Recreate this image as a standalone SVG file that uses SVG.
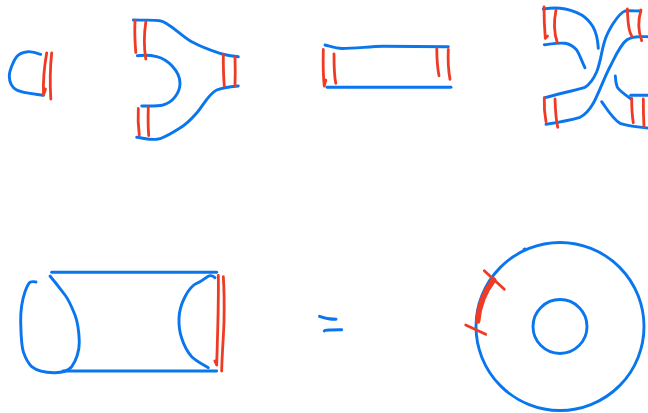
<svg xmlns="http://www.w3.org/2000/svg" width="648" height="413" viewBox="0 0 648 413">
<style>
path,circle{fill:none;stroke-linecap:round;stroke-linejoin:round}
.b{stroke:#0a76ee;stroke-width:2.9}
.r{stroke:#ef3a24;stroke-width:2.8}
</style>
<rect width="648" height="413" fill="#fff"/>
<g id="cap">
<path class="b" d="M40.700 54.300C38.600 53.900 32 51.300 28 51.700C24 52.100 19.800 52.700 16.700 56.700C13.600 60.700 9.300 70.400 9.300 76C9.300 81.600 11 86.800 16.700 90C22.400 93.200 38.900 94.400 43.300 95.300"/>
<path class="r" d="M46.700 53C44.500 65 43 80 43.500 95M45.500 89L43.500 95"/>
<path class="r" d="M51.700 53C50 68 50 85 50.800 99"/>
</g>
<g id="pants">
<path class="b" d="M133.300 20C142 20.500 152 19.500 160 20.700C168 21.500 181.700 36.300 191.700 41.700C201.700 47.100 212.200 50.800 220 53.300C227.800 55.800 235 56.100 238.300 56.700"/>
<path class="b" d="M238.300 86C231 86.700 222.500 87.500 216.700 90C209 93.500 202.500 106.300 196.700 113C191 119.500 186 124.500 180 128C172 132.500 165 138 156.700 139.300C150 140 143 138 136.700 137.300"/>
<path class="b" d="M137.300 55.700C144 55 150 55 156.700 56.700C168 59.500 180 71 180 83.300C180 93 172.500 102.500 163 105C156 106.500 149 105.800 141.700 106"/>
<path class="r" d="M135 21C134.500 32 135 43 135.800 52.500"/>
<path class="r" d="M145.800 22C144 34 144 48 145.800 59"/>
<path class="r" d="M223.300 55C223.300 66 223.500 77 224.300 86"/>
<path class="r" d="M235 57C235.300 67 235.300 77 235 86"/>
<path class="r" d="M138.300 108.500C137.800 117 138.300 127 139.300 135"/>
<path class="r" d="M148.300 107.500C148 117 148 127 148.700 135.500"/>
</g>
<g id="cylinder">
<path class="b" d="M325 45C331 46.500 336 48.500 342 48.500C355 48.500 370 46.500 383 46.300L448.300 46.700"/>
<path class="b" d="M327 87.300H451"/>
<path class="r" d="M323.300 49.500C323 62 323 75 324.300 86M325.800 80L324.300 86"/>
<path class="r" d="M334 54C334 64 334 75 335.800 83.300"/>
<path class="r" d="M436.800 48.500C436.800 58 437.500 68 439 75.800"/>
<path class="r" d="M448.300 49.500C447.800 60 448.500 71 450 79.300"/>
</g>
<g id="crossing">
<path class="b" d="M543.300 9C549 8.200 555 7.800 560 8.300C568 9 575 11.500 581.700 15C586.500 18 590 22 593 26.700C596 32 597.800 40 598.300 48.300"/>
<path class="b" d="M544.300 44.700C551 44 558 42.500 565 43.300C570 44 573.500 46.500 576.700 50C580 55 582 62 585 67.700"/>
<path class="b" d="M545 97.700C558 94 572 91 585 87.300C590 84 594 78 596.700 71.700C601 61 601.500 50 605 40C607 34 610 28.500 613.300 23.300C616.500 18.500 620 13 625 11C630 10.500 635 11 640.700 11"/>
<path class="b" d="M546 124.300C557 122.500 569 120.500 580 117.300C586 114.500 590 109 593.300 103.300C599 93 604 78 610 66.700C615 57 620 45 626.700 40C632 36 640 36.500 647.300 36.700"/>
<path class="b" d="M615.300 76C615.500 80 616 84 617.300 87.300C620.500 92 627 96 631.700 99.300"/>
<path class="b" d="M630.700 95.300H648"/>
<path class="b" d="M601.700 101.700C607 109 612 118 620 123.300C628 126 638 127 647.300 128"/>
<path class="r" d="M544 7C544 18 544.500 28 545.300 38.300M547.500 36L545.300 38.300"/>
<path class="r" d="M556 10C554 20 554 33 557.300 42.700"/>
<path class="r" d="M627.300 9C628 18 627.500 30 631.700 36"/>
<path class="r" d="M641 10C638 20 638.500 32 641.700 40.700"/>
<path class="r" d="M544.300 97.700C544 106 544.500 114 546 121.700"/>
<path class="r" d="M555 99C555.300 108 555.800 119 557.700 127.300"/>
<path class="r" d="M631.700 98.300C631.700 106 632 115 633.300 122.700"/>
<path class="r" d="M643.300 99C643.300 108 643.500 118 644 126.700"/>
</g>
<g id="tube">
<path class="b" d="M51.700 272.300H216.700"/>
<path class="b" d="M63 371H216.700"/>
<path class="b" d="M36 282C34 281.600 32 281.300 30 282.300C28 283.500 26.500 288 25 291.700C22.500 299 20.500 311.500 20.700 321.700C21 332 21 344 23.300 351.700C25 357 28 363 31.700 366.700C37 371 47 372.800 55 372.700C62 372.600 67.500 371.500 71.700 366.700C76 361 79.500 351 79.300 341.700C79 332 78 323 75 315C72 307.500 69.500 301 65 295C60.500 289 55 282 50 276"/>
<path class="b" d="M215 277.700C213.500 276 212 275.500 210 275.700C206 276.500 203 281 196.700 283.300C192 285.500 188 291 185 296.700C181.500 303.500 179.200 311 179 318.300C178.800 325 179.500 332 181.700 338.300C183.700 344.500 187 351.500 191.700 356.700C196 361 203 364.500 208.300 367.700"/>
<path class="r" d="M218.300 275.500C218.800 305 217.500 335 216.700 365M214.800 361L216.700 365"/>
<path class="r" d="M223.300 276.700C224.300 291 224.300 306 224 321.700C223.500 338 222 354 221.700 371"/>
</g>
<g id="equals">
<path class="b" d="M319.500 316.300C325 318.500 330 319.300 336 319.300"/>
<path class="b" d="M324.300 331C325 329.800 331 329.800 341.700 329.700"/>
</g>
<g id="torus">
<circle class="b" cx="560" cy="326.500" r="84"/>
<circle class="b" cx="560" cy="326.500" r="27"/>
<path class="b" d="M524 249.300L525 249"/>
<path class="r" d="M484.300 270.700L504.300 289.300"/>
<path class="r" d="M465.700 325L485.700 334.300"/>
<path d="M493.500 280C485 291 479 305 477.700 321" stroke="#ef3a24" stroke-width="5.500"/>
</g>
</svg>
